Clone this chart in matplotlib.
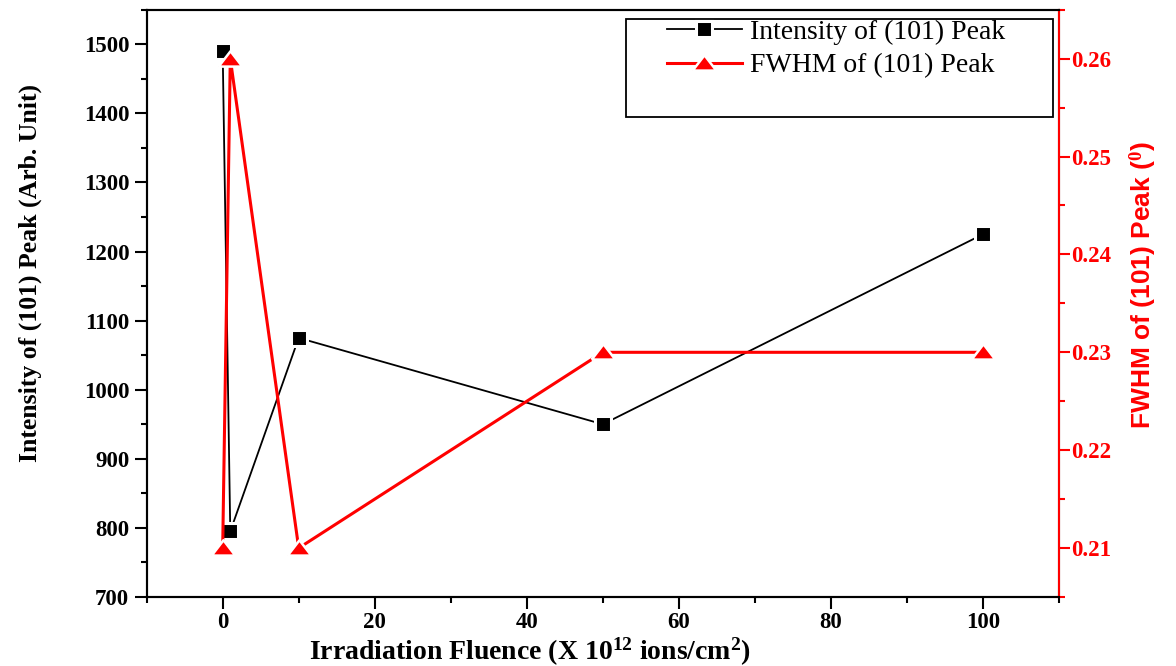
import matplotlib
matplotlib.use("Agg")
import matplotlib.pyplot as plt
from matplotlib.lines import Line2D
from matplotlib.patches import Rectangle
from matplotlib.ticker import MultipleLocator

# data
fluence = [0, 1, 10, 50, 100]
intensity = [1490, 795, 1075, 950, 1225]
fwhm = [0.21, 0.26, 0.21, 0.23, 0.23]

plt.rcParams["font.family"] = ["Liberation Serif", "DejaVu Serif"]
plt.rcParams["mathtext.fontset"] = "custom"
plt.rcParams["mathtext.rm"] = "Liberation Serif:bold"
plt.rcParams["mathtext.bf"] = "Liberation Serif:bold"
plt.rcParams["mathtext.default"] = "bf"

# flat Origin-style triangle
tri = [(-1, -0.6), (1, -0.6), (0, 0.7), (-1, -0.6)]

sq_style = dict(color="black", lw=1.3, marker="s", ms=11, mfc="black",
                mec="white", mew=2.2)
tri_style = dict(color="red", lw=2.2, marker=tri, ms=17, mfc="red",
                 mec="white", mew=1.8)

fig = plt.figure(figsize=(11.76, 6.66), dpi=100)
ax = fig.add_axes([0.1247, 0.1036, 0.9005 - 0.1247, 0.9854 - 0.1036])
ax2 = ax.twinx()

ax.plot(fluence, intensity, zorder=3, **sq_style)
ax2.plot(fluence, fwhm, zorder=3, **tri_style)

ax.set_xlim(-10, 110)
ax.set_ylim(700, 1550)
ax2.set_ylim(0.205, 0.265)

ax.xaxis.set_major_locator(MultipleLocator(20))
ax.xaxis.set_minor_locator(MultipleLocator(10))
ax.yaxis.set_major_locator(MultipleLocator(100))
ax.yaxis.set_minor_locator(MultipleLocator(50))
ax2.yaxis.set_major_locator(MultipleLocator(0.01))
ax2.yaxis.set_minor_locator(MultipleLocator(0.005))
ax2.yaxis.set_major_formatter(plt.FuncFormatter(lambda v, p: f"{v:.2f}"))

for a in (ax, ax2):
    for s in a.spines.values():
        s.set_linewidth(1.5)
ax.tick_params(axis="both", which="major", direction="out", length=8.5, width=1.5,
               labelsize=16.5, pad=4)
ax.tick_params(axis="x", which="major", pad=2.5)
ax.tick_params(axis="both", which="minor", direction="out", length=4.5, width=1.5)
for lab in ax.get_xticklabels() + ax.get_yticklabels():
    lab.set_fontweight("bold")

ax2.spines["right"].set_color("red")
ax2.tick_params(axis="y", which="major", direction="out", length=8, width=1.5,
                colors="red", labelsize=16.5, pad=1)
ax2.tick_params(axis="y", which="minor", direction="out", length=4.5, width=1.5,
                colors="red")
for lab in ax2.get_yticklabels():
    lab.set_fontweight("bold")

ax.set_xlabel("Irradiation Fluence (X 10$^{12}$ ions/cm$^{2}$)", fontsize=20,
              fontweight="bold")
ax.xaxis.set_label_coords(0.42, -0.066)
ax.set_ylabel("Intensity of (101) Peak (Arb. Unit)", fontsize=18.5,
              fontweight="bold")
ax.yaxis.set_label_coords(-0.1148, 0.552)
ax2.set_ylabel("FWHM of (101) Peak ($^{0}$)", fontsize=19, fontweight="bold",
               color="red", family=["Liberation Sans", "DejaVu Sans"])
ax2.yaxis.set_label_coords(1.0756, 0.531)

# legend: box drawn by hand, entries placed inside like Origin
ax2.add_patch(Rectangle((0.5254, 0.8177), 0.9934 - 0.5254, 0.9837 - 0.8177,
                        transform=ax2.transAxes, fill=True, fc="white",
                        ec="black", lw=1.3, zorder=4, clip_on=False))
handles = [Line2D([], [], **sq_style), Line2D([], [], **tri_style)]
leg = ax2.legend(handles, ["Intensity of (101) Peak", "FWHM of (101) Peak"],
                 loc="upper left", bbox_to_anchor=(0.570, 0.984), fontsize=20,
                 handlelength=2.7, labelspacing=0.3, borderpad=0,
                 handletextpad=0.3, frameon=False, borderaxespad=0)
leg.set_zorder(5)

fig.savefig("out.png", dpi=100)
